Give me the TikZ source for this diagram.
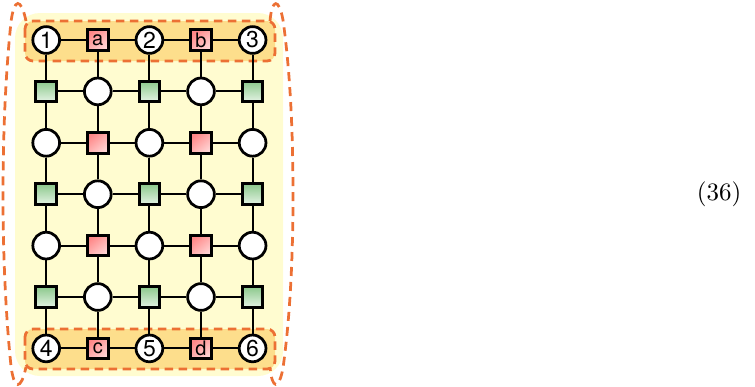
\documentclass[tikz,border=0pt]{standalone}
\usepackage{fontspec}
\newfontfamily\labelfont{TeX Gyre Heros}

\definecolor{padyellow}{RGB}{255,252,208}
\definecolor{rowband}{RGB}{253,222,140}
\definecolor{dashorange}{RGB}{236,112,52}
\definecolor{redtop}{RGB}{255,135,135}
\definecolor{redbot}{RGB}{255,212,212}
\definecolor{greentop}{RGB}{140,200,140}
\definecolor{greenbot}{RGB}{228,243,228}

\tikzset{
  site/.style={circle,draw,line width=1.1pt,fill=white,minimum size=10.7pt,inner sep=0pt,
    font={\labelfont\fontsize{9.2pt}{10pt}\selectfont}},
  redsq/.style={rectangle,draw,line width=1.2pt,minimum size=8.2pt,inner sep=0pt,
    top color=redtop,bottom color=redbot,shading angle=40,
    font={\labelfont\fontsize{8pt}{9pt}\selectfont}},
  greensq/.style={rectangle,draw,line width=1.2pt,minimum size=8.2pt,inner sep=0pt,
    top color=greentop,bottom color=greenbot},
  bondline/.style={draw=black,line width=0.75pt},
  band/.style={fill=rowband,draw=dashorange,line width=1.1pt,dash pattern=on 3.4pt off 2.2pt,
    rounded corners=3.2pt},
  paren/.style={draw=dashorange,line width=1.1pt,dash pattern=on 3.6pt off 2.4pt}
}

\begin{document}
\begin{tikzpicture}[x=0.4pt,y=-0.4pt]
  \useasboundingbox (0,0) rectangle (755,387);

  % pad and the two boundary rows
  \fill[padyellow,rounded corners=10pt] (15,13) rectangle (283,376);
  \path[band] (25,21) rectangle (275,61);
  \path[band] (25,329) rectangle (275,369);

  % big dashed brackets
  \draw[paren] (26,21) .. controls (21,-3) and (14,-2) .. (11,22)
    .. controls (6,70) and (3,130) .. (3,194)
    .. controls (3,258) and (6,318) .. (11,366)
    .. controls (14,390) and (21,391) .. (26,367);
  \draw[paren] (270,21) .. controls (272,-2) and (279,-2) .. (283,20)
    .. controls (290,70) and (293,130) .. (293,194)
    .. controls (293,258) and (290,318) .. (283,368)
    .. controls (279,390) and (272,390) .. (270,367);

  % labelled top and bottom rows
  \foreach \c/\t/\k in {0/1/site,1/a/redsq,2/2/site,3/b/redsq,4/3/site}
    \node[\k] (n-0-\c) at ({46.2+51.6*\c},40) {\t};
  \foreach \c/\t/\k in {0/4/site,1/c/redsq,2/5/site,3/d/redsq,4/6/site}
    \node[\k] (n-6-\c) at ({46.2+51.6*\c},348.4) {\t};

  % bulk of the lattice
  \foreach \r in {1,...,5}
    \foreach \c in {0,...,4} {
      \pgfmathtruncatemacro\odd{mod(\r+\c,2)}
      \pgfmathtruncatemacro\rodd{mod(\r,2)}
      \ifnum\odd=0 \def\kind{site}\else\ifnum\rodd=0 \def\kind{redsq}\else\def\kind{greensq}\fi\fi
      \node[\kind] (n-\r-\c) at ({46.2+51.6*\c},{40+51.4*\r}) {};
    }

  % bonds, horizontal then vertical
  \foreach \r in {0,...,6}
    \foreach \c in {0,...,3} {
      \pgfmathtruncatemacro\cn{\c+1}
      \path[bondline] (n-\r-\c) -- (n-\r-\cn);
    }
  \foreach \c in {0,...,4}
    \foreach \r in {0,...,5} {
      \pgfmathtruncatemacro\rn{\r+1}
      \path[bondline] (n-\r-\c) -- (n-\rn-\c);
    }

  \node (eqno) at (719,194) {(36)};
\end{tikzpicture}
\end{document}
